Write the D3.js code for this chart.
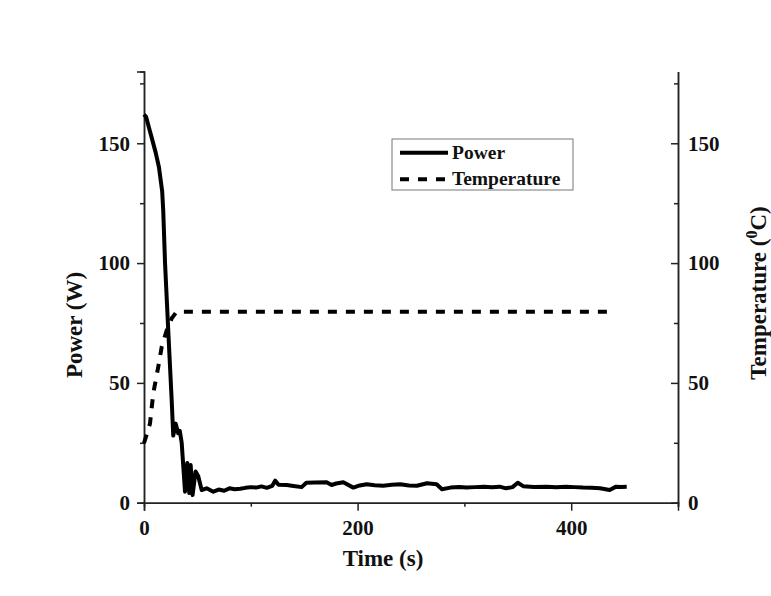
<!DOCTYPE html>
<html>
<head>
<meta charset="utf-8">
<script src="https://cdn.jsdelivr.net/npm/d3@7"></script>
<style>
  body { margin: 0; background: #fff; }
  text { font-family: "Liberation Serif", "Times New Roman", serif; font-weight: bold; fill: #111; }
</style>
</head>
<body>
<div id="chart"></div>
<script>
// power trace (W)
var powerTime = [0, 2, 5, 8, 11, 14, 17, 18, 19.7, 22.8, 25.9, 27.4, 29.7, 32, 33.5, 35.3, 38.4, 40.5, 42.4, 43.7, 45.5, 48.3, 50.8, 54,
                 58.7, 64.9, 70, 75, 80, 85, 90, 95, 100, 105, 110, 115, 120, 122.8, 126, 133.6, 140, 147.6, 152, 160, 171, 175.6,
                 180, 186.6, 196, 202, 208.5, 216, 224, 232, 240, 248, 255.5, 265, 274, 279, 287, 295, 302, 310, 318, 326, 333,
                 339, 345, 350, 355, 365, 377, 386, 395, 403, 411, 419, 427, 436, 442, 447, 452];
var power = [162, 161, 156, 151, 146, 140, 130, 122, 100, 71, 43, 28, 33, 29, 30, 25, 4.6, 16.6, 4, 15.7, 3.2, 13, 11, 5.3,
             6, 4.6, 5.5, 5, 6, 5.6, 5.8, 6.2, 6.5, 6.3, 6.8, 6.2, 7, 9.2, 7.5, 7.4, 7, 6.5, 8.3, 8.4, 8.5, 7.4,
             8, 8.5, 6.3, 7.2, 7.7, 7.3, 7.1, 7.5, 7.7, 7.2, 7.1, 8.1, 7.7, 5.6, 6.3, 6.6, 6.3, 6.5, 6.7, 6.4, 6.7,
             6, 6.5, 8.3, 6.9, 6.6, 6.7, 6.4, 6.7, 6.5, 6.3, 6.2, 6, 5.3, 6.7, 6.6, 6.7];

// temperature trace (oC)
var tempTime = [0, 5.6, 8.7, 13.4, 16.6, 21.3, 26, 30.6, 440];
var temp = [24.8, 33, 45.7, 56.8, 65.1, 72, 77, 79.7, 79.7];

// ticks
var xMajor = [0, 200, 400], xMinor = [100, 300, 500];
var yMajor = [0, 50, 100, 150], yMinor = [25, 75, 125, 175];

var seriesNames = ["Power", "Temperature"];

var width = 771, height = 596;

var x = d3.scaleLinear().domain([0, 500]).range([144, 678]);
var yL = d3.scaleLinear().domain([0, 180]).range([502.7, 71.4]);
var yR = d3.scaleLinear().domain([0, 180]).range([502.7, 71.4]);

var svg = d3.select("#chart").append("svg")
    .attr("width", width)
    .attr("height", height);

var powerLine = d3.line()
    .x(function(d, i) { return x(powerTime[i]); })
    .y(function(d) { return yL(d); });

var tempLine = d3.line()
    .x(function(d, i) { return x(tempTime[i]); })
    .y(function(d) { return yR(d); });

// axes, minor first then major
function styleAxis(g, size) {
  g.select(".domain").attr("stroke", "#222").attr("stroke-width", 1.5);
  g.selectAll(".tick line").attr("stroke", "#222").attr("stroke-width", 1.5);
  g.selectAll("text").style("font-size", size + "px").attr("fill", "#111");
}

svg.append("g")
    .attr("transform", "translate(0," + yL(0) + ")")
    .call(d3.axisBottom(x).tickValues(xMinor).tickSize(4).tickFormat(""))
    .call(styleAxis, 21);
svg.append("g")
    .attr("transform", "translate(0," + yL(0) + ")")
    .call(d3.axisBottom(x).tickValues(xMajor).tickSize(8).tickPadding(9))
    .call(styleAxis, 21);

svg.append("g")
    .attr("transform", "translate(" + x(0) + ",0)")
    .call(d3.axisLeft(yL).tickValues(yMinor).tickSize(4).tickFormat(""))
    .call(styleAxis, 21);
svg.append("g")
    .attr("transform", "translate(" + x(0) + ",0)")
    .call(d3.axisLeft(yL).tickValues(yMajor).tickSize(7).tickPadding(7))
    .call(styleAxis, 21);

svg.append("g")
    .attr("transform", "translate(" + x(500) + ",0)")
    .call(d3.axisRight(yR).tickValues(yMinor).tickSizeInner(-4).tickSizeOuter(0).tickFormat(""))
    .call(styleAxis, 21);
svg.append("g")
    .attr("transform", "translate(" + x(500) + ",0)")
    .call(d3.axisRight(yR).tickValues(yMajor).tickSizeInner(-7).tickSizeOuter(0).tickPadding(10))
    .call(styleAxis, 21);

// data lines
svg.append("path")
    .datum(temp)
    .attr("fill", "none")
    .attr("stroke", "#000")
    .attr("stroke-width", 4)
    .attr("stroke-dasharray", "9,9")
    .attr("d", tempLine);

svg.append("path")
    .datum(power)
    .attr("fill", "none")
    .attr("stroke", "#000")
    .attr("stroke-width", 4)
    .attr("stroke-linejoin", "round")
    .attr("d", powerLine);

// axis titles
svg.append("text")
    .attr("x", 383)
    .attr("y", 566)
    .attr("text-anchor", "middle")
    .style("font-size", "23px")
    .text("Time (s)");

svg.append("text")
    .attr("transform", "translate(82,325) rotate(-90)")
    .attr("text-anchor", "middle")
    .style("font-size", "23px")
    .text("Power (W)");

var rt = svg.append("text")
    .attr("transform", "translate(766,293) rotate(-90)")
    .attr("text-anchor", "middle")
    .style("font-size", "23px");
rt.append("tspan").text("Temperature (");
rt.append("tspan").attr("dy", -9).style("font-size", "16px").text("0");
rt.append("tspan").attr("dy", 9).text("C)");

// legend
var legend = svg.append("g").attr("transform", "translate(392,139)");
legend.append("rect")
    .attr("width", 181)
    .attr("height", 51)
    .attr("fill", "#fff")
    .attr("stroke", "#777")
    .attr("stroke-width", 1);

var item = legend.selectAll(".legend")
    .data(seriesNames)
    .enter().append("g")
    .attr("class", "legend")
    .attr("transform", function(d, i) { return "translate(0," + (13.7 + i * 26.6) + ")"; });

item.append("line")
    .attr("x1", 8).attr("x2", 56)
    .attr("stroke", "#000")
    .attr("stroke-width", 4)
    .attr("stroke-dasharray", function(d, i) { return i ? "9,9" : null; });

item.append("text")
    .attr("x", 60)
    .attr("y", 6)
    .style("font-size", "19.5px")
    .text(function(d) { return d; });
</script>
</body>
</html>
